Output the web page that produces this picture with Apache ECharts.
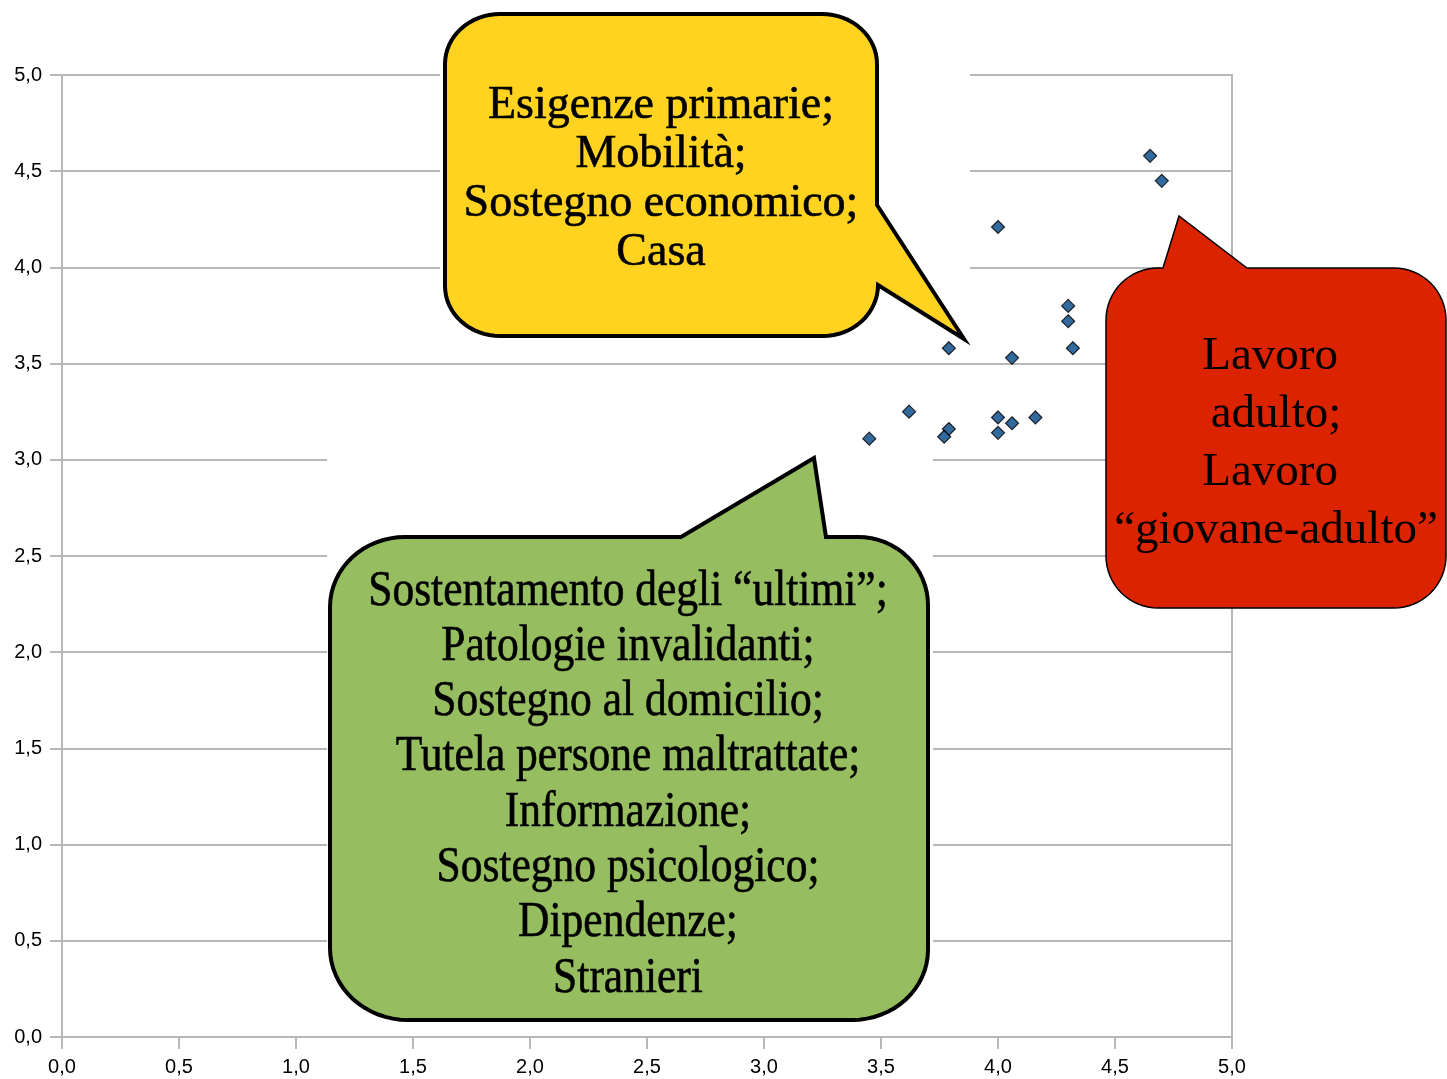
<!DOCTYPE html>
<html>
<head>
<meta charset="utf-8">
<style>
  html, body { margin: 0; padding: 0; background: #fff; }
  #chart { width: 1447px; height: 1079px; }
</style>
<script src="https://cdn.jsdelivr.net/npm/echarts@6/dist/echarts.min.js"></script>
</head>
<body>
<div id="chart"></div>
<script>
// punti (x, y)
var xValues = [4.65, 4.70, 4.00, 4.30, 4.30, 4.32, 3.79, 4.06, 3.62, 3.45, 3.79, 3.77, 4.00, 4.00, 4.06, 4.16];
var yValues = [4.58, 4.45, 4.21, 3.80, 3.72, 3.58, 3.58, 3.53, 3.25, 3.11, 3.16, 3.12, 3.22, 3.14, 3.19, 3.22];

// testi dei fumetti
var yellowLines = ['Esigenze primarie;', 'Mobilità;', 'Sostegno economico;', 'Casa'];
var greenLines = ['Sostentamento degli “ultimi”;', 'Patologie invalidanti;', 'Sostegno al domicilio;',
  'Tutela persone maltrattate;', 'Informazione;', 'Sostegno psicologico;', 'Dipendenze;', 'Stranieri'];
var redLines = ['Lavoro ', 'adulto;', 'Lavoro ', '“giovane-adulto”'];

var chart = echarts.init(document.getElementById('chart'));

var points = xValues.map(function (x, i) { return [x, yValues[i]]; });
var fmt = function (v) { return v.toFixed(1).replace('.', ','); };
var gridColor = '#b8b8b8';

// quarto di ellisse per gli angoli arrotondati dei fumetti
function arc(cx, cy, rx, ry, a0, a1) {
  var pts = [];
  for (var i = 0; i <= 16; i++) {
    var a = (a0 + (a1 - a0) * i / 16) * Math.PI / 180;
    pts.push([cx + rx * Math.cos(a), cy + ry * Math.sin(a)]);
  }
  return pts;
}

var yellowShape = [].concat(
  arc(500, 64, 55, 50, 180, 270),
  arc(822, 64, 55, 50, 270, 360),
  [[877, 205], [964, 339], [878, 285]],
  arc(823, 285, 55, 51, 0, 90),
  arc(500, 286, 55, 50, 90, 180)
);
var greenShape = [].concat(
  arc(405, 607, 75, 70, 180, 270),
  [[681, 537], [814, 458], [826, 537]],
  arc(858, 605, 70, 68, 270, 360),
  arc(852, 950, 76, 70, 0, 90),
  arc(408, 948, 78, 72, 90, 180)
);
var redShape = [].concat(
  arc(1158, 320, 52, 52, 180, 270),
  [[1163, 268], [1179, 216], [1247, 268]],
  arc(1394, 320, 52, 52, 270, 360),
  arc(1394, 556, 52, 52, 0, 90),
  arc(1158, 556, 52, 52, 90, 180)
);

var option = {
  animation: false,
  grid: {
    left: 62, right: 215, top: 75, bottom: 42,
    show: true, borderColor: gridColor, borderWidth: 2, backgroundColor: 'transparent'
  },
  xAxis: {
    type: 'value', min: 0, max: 5, interval: 0.5,
    axisLine: { show: true, lineStyle: { color: gridColor, width: 2 } },
    axisTick: { show: true, length: 12, lineStyle: { color: gridColor, width: 2 } },
    splitLine: { show: false },
    axisLabel: { formatter: fmt, color: '#000', fontSize: 20, fontFamily: 'Liberation Sans', margin: 20 }
  },
  yAxis: {
    type: 'value', min: 0, max: 5, interval: 0.5,
    axisLine: { show: true, lineStyle: { color: gridColor, width: 2 } },
    axisTick: { show: true, length: 12, lineStyle: { color: gridColor, width: 2 } },
    splitLine: { show: true, lineStyle: { color: gridColor, width: 2 } },
    axisLabel: { formatter: fmt, color: '#000', fontSize: 20, fontFamily: 'Liberation Sans', margin: 20 }
  },
  series: [{
    type: 'scatter',
    symbol: 'diamond',
    symbolSize: 13,
    z: 5,
    itemStyle: { color: '#004586', borderColor: '#000', borderWidth: 1.2 },
    data: points
  }],
  graphic: [
    // sfondi bianchi delle immagini incollate
    { type: 'rect', z: 3, shape: { x: 440, y: 0, width: 530, height: 345 }, style: { fill: '#fff' }, silent: true },
    { type: 'rect', z: 3, shape: { x: 327, y: 450, width: 606, height: 580 }, style: { fill: '#fff' }, silent: true },
    // fumetto giallo
    {
      type: 'polygon', z: 10,
      shape: { points: yellowShape },
      style: { fill: '#ffd320', stroke: '#000', lineWidth: 4, lineJoin: 'miter' }
    },
    {
      type: 'text', z: 11, x: 661, y: 179,
      style: {
        text: yellowLines.join('\n'), fill: '#000', fontSize: 46, fontFamily: 'Liberation Serif',
        lineHeight: 49, align: 'center', verticalAlign: 'middle',
        stroke: '#000', lineWidth: 0.6
      }
    },
    // fumetto verde
    {
      type: 'polygon', z: 10,
      shape: { points: greenShape },
      style: { fill: '#96bd5f', stroke: '#000', lineWidth: 4, lineJoin: 'miter' }
    },
    {
      type: 'text', z: 11, x: 628, y: 785, scaleX: 0.87,
      style: {
        text: greenLines.join('\n'), fill: '#000', fontSize: 50, fontFamily: 'Liberation Serif',
        lineHeight: 55.3, align: 'center', verticalAlign: 'middle',
        stroke: '#000', lineWidth: 0.6
      }
    },
    // fumetto rosso
    {
      type: 'polygon', z: 10,
      shape: { points: redShape },
      style: { fill: '#dc2300', stroke: '#000', lineWidth: 1.5 }
    },
    {
      type: 'text', z: 11, x: 1276, y: 444,
      style: {
        text: redLines.join('\n'), fill: '#000', fontSize: 47, fontFamily: 'Liberation Serif',
        lineHeight: 58, align: 'center', verticalAlign: 'middle'
      }
    }
  ]
};

chart.setOption(option);
</script>
</body>
</html>
